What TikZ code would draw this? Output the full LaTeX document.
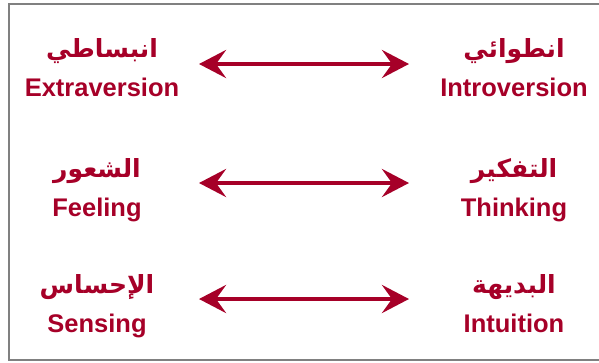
\documentclass[tikz,border=0pt]{standalone}
\usepackage{fontspec}
\usepackage{tikz}
\usetikzlibrary{arrows.meta}
\setmainfont{Liberation Sans}
\newfontfamily\arabicfont[Script=Arabic]{DejaVu Sans}
\TeXXeTstate=1
\definecolor{darkred}{RGB}{166,0,40}
\definecolor{framegray}{RGB}{128,128,128}

\begin{document}
\begin{tikzpicture}[x=1pt, y=-1pt,
	en/.style={anchor=base, inner sep=0pt, text=darkred, font=\fontsize{25.5}{30}\selectfont\bfseries},
	ar/.style={anchor=base, inner sep=0pt, text=darkred, font=\fontsize{25}{30}\selectfont\arabicfont\bfseries},
	pair/.style={darkred, line width=4.5pt, {Stealth[length=27pt,width=28pt,inset=10pt]}-{Stealth[length=27pt,width=28pt,inset=10pt]}}]
	\useasboundingbox (0,0) rectangle (599,362);
	\draw[framegray, line width=2pt] (9,3.5) rectangle (640,359.5);

	% row 1
	\node[ar] (extra-ar) at (102,57) {\beginR انبساطي\endR};
	\node[en] (extra) at (102,96) {Extraversion};
	\node[ar] (intro-ar) at (514,57) {\beginR انطوائي\endR};
	\node[en] (intro) at (514,96) {Introversion};
	\coordinate (extra-tip) at (199,64);
	\coordinate (intro-tip) at (409,64);
	\draw[pair] (extra-tip) -- (intro-tip);
	% row 2
	\node[ar] (feel-ar) at (97,177) {\beginR الشعور\endR};
	\node[en] (feel) at (97,216) {Feeling};
	\node[ar] (think-ar) at (514,177) {\beginR التفكير\endR};
	\node[en] (think) at (514,216) {Thinking};
	\coordinate (feel-tip) at (199,183);
	\coordinate (think-tip) at (409,183);
	\draw[pair] (feel-tip) -- (think-tip);
	% row 3
	\node[ar] (sens-ar) at (97,293) {\beginR الإحساس\endR};
	\node[en] (sens) at (97,332) {Sensing};
	\node[ar] (intu-ar) at (514,293) {\beginR البديهة\endR};
	\node[en] (intu) at (514,332) {Intuition};
	\coordinate (sens-tip) at (199,299);
	\coordinate (intu-tip) at (409,299);
	\draw[pair] (sens-tip) -- (intu-tip);
\end{tikzpicture}
\end{document}
